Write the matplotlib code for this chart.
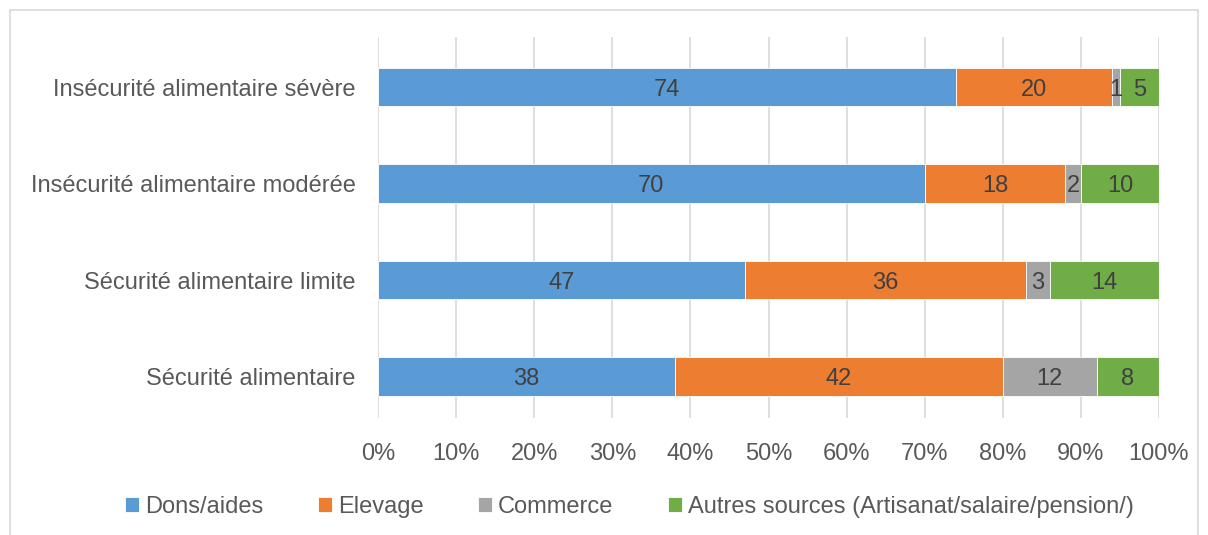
import numpy as np
import matplotlib.pyplot as plt
from matplotlib.patches import Rectangle

categories = ["Sécurité alimentaire", "Sécurité alimentaire limite",
              "Insécurité alimentaire modérée", "Insécurité alimentaire sévère"]
dons = [38, 47, 70, 74]
elevage = [42, 36, 18, 20]
commerce = [12, 3, 2, 1]
autres = [8, 14, 10, 5]

series = [
    ("Dons/aides", dons, "#5B9BD5"),
    ("Elevage", elevage, "#ED7D31"),
    ("Commerce", commerce, "#A5A5A5"),
    ("Autres sources (Artisanat/salaire/pension/)", autres, "#70AD47"),
]

plt.rcParams['font.family'] = ['Liberation Sans', 'DejaVu Sans']
txt = "#595959"
fs = 17

fig = plt.figure(figsize=(12.08, 5.35), dpi=100)
ax = fig.add_axes([378 / 1208, 1 - 418 / 535, 781 / 1208, 381 / 535])

# cadre gris autour du graphique
fig.patches.append(Rectangle((10 / 1208, -0.05), 1188 / 1208, 1.05 - 10 / 535,
                             transform=fig.transFigure, fill=False,
                             edgecolor="#D9D9D9", linewidth=1.2))

y = np.arange(len(categories))
totals = np.array(dons) + np.array(elevage) + np.array(commerce) + np.array(autres)
left = np.zeros(len(categories))
for name, vals, col in series:
    w = np.array(vals) / totals
    ax.barh(y, w, left=left, height=0.4, color=col, label=name,
            edgecolor="white", linewidth=0.6, zorder=3)
    for yi, l, wi, v in zip(y, left, w, vals):
        ax.text(l + wi / 2, yi, str(v), ha="center", va="center_baseline",
                fontsize=fs, color="#404040", zorder=4)
    left += w

ax.set_xlim(0, 1)
ax.set_ylim(-0.43, 3.52)
ax.set_xticks(np.linspace(0, 1, 11))
ax.set_xticklabels([f"{i}%" for i in range(0, 101, 10)], fontsize=fs, color=txt)
ax.set_yticks(y)
ax.set_yticklabels(categories, fontsize=fs, color=txt)
ax.tick_params(axis="both", length=0)
ax.tick_params(axis="x", pad=18)
ax.tick_params(axis="y", pad=16)
ax.grid(axis="x", color="#D9D9D9", linewidth=1.2, zorder=0)
for s in ax.spines.values():
    s.set_visible(False)

fig.legend(loc="center", bbox_to_anchor=(0.521, 1 - 507 / 535), ncol=4,
           frameon=False, fontsize=fs, labelcolor=txt, handlelength=0.6,
           handleheight=0.6, handletextpad=0.25, columnspacing=2.3,
           borderpad=0, borderaxespad=0)

fig.savefig("out.png", dpi=100)
